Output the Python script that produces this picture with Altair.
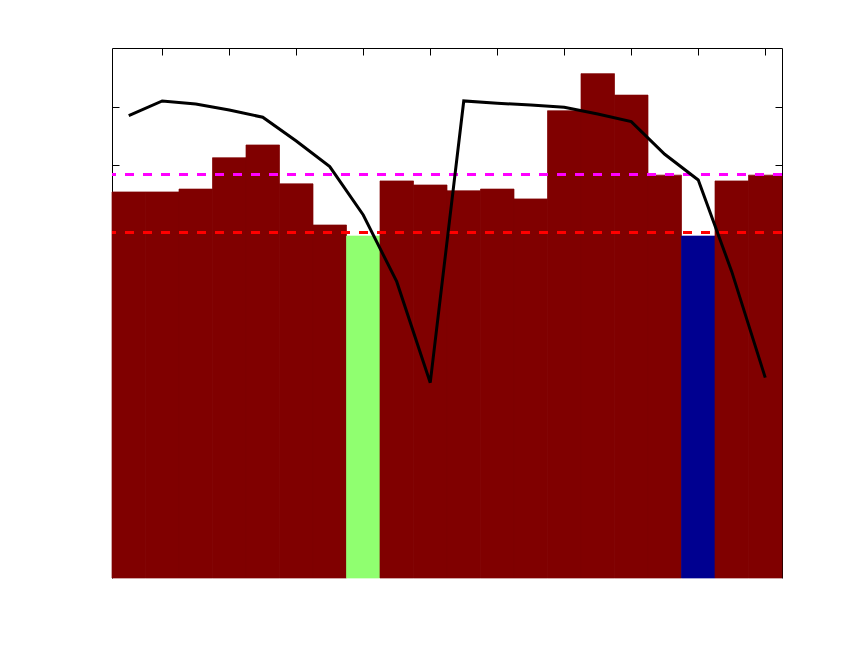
import altair as alt
import pandas as pd

# ---- data ----
positions = list(range(1, 21))
bar_values = [7.54, 7.54, 7.59, 8.13, 8.35, 7.68, 6.97, 6.78, 7.73, 7.66,
              7.56, 7.59, 7.42, 8.94, 9.58, 9.21, 7.83, 6.78, 7.73, 7.83]
bar_kinds = ["main"] * 7 + ["green"] + ["main"] * 9 + ["blue"] + ["main"] * 2
line_values = [8.855, 9.109, 9.057, 8.953, 8.828, 8.419, 7.976, 7.143, 5.993, 4.252,
               9.109, 9.069, 9.040, 9.000, 8.884, 8.752, 8.190, 7.747, 6.166, 4.338]
magenta_level = 7.845
red_level = 6.845
x_ticks = [2, 4, 6, 8, 10, 12, 14, 16, 18, 20]
y_ticks = [1, 2, 3, 4, 5, 6, 7, 8, 9]
y_domain = [0.884, 10.022]

kind_domain = ["main", "green", "blue"]
kind_colors = ["#800000", "#90ff70", "#000090"]

df = pd.DataFrame({"pos": positions, "bar": bar_values, "kind": bar_kinds, "line": line_values})

xscale = alt.Scale(paddingInner=0, paddingOuter=0)
yscale = alt.Scale(domain=y_domain, nice=False, zero=False)
kscale = alt.Scale(domain=kind_domain, range=kind_colors)


def tick_axis(orient, values):
    # inward ticks, drawn behind the marks
    return alt.Axis(orient=orient, values=values, labels=False, domain=False,
                    tickSize=7, offset=-7, tickColor="black", tickWidth=1,
                    title=None, grid=False)


def frame_axis(orient):
    # frame line only, drawn behind the marks
    return alt.Axis(orient=orient, labels=False, ticks=False, domain=True,
                    domainColor="black", domainWidth=1, title=None, grid=False)


bars = alt.Chart(df).mark_bar(strokeWidth=0.7).encode(
    x=alt.X("pos:O", scale=xscale, axis=frame_axis("top")),
    y=alt.Y("bar:Q", scale=yscale, axis=frame_axis("left")),
    y2=alt.datum(y_domain[0]),
    color=alt.Color("kind:N", scale=kscale, legend=None),
    stroke=alt.Stroke("kind:N", scale=kscale, legend=None),
)

rule_m = alt.Chart(df).mark_rule(color="#ff00ff", strokeDash=[9, 9], strokeWidth=2.5).encode(
    y=alt.YDatum(magenta_level, scale=yscale, axis=tick_axis("left", y_ticks))
)
rule_r = alt.Chart(df).mark_rule(color="#ff0000", strokeDash=[9, 9], strokeWidth=2.5).encode(
    y=alt.YDatum(red_level, scale=yscale, axis=tick_axis("right", y_ticks))
)

line = alt.Chart(df).mark_line(color="black", strokeWidth=3).encode(
    x=alt.X("pos:O", scale=xscale, axis=tick_axis("top", x_ticks)),
    y=alt.Y("line:Q", scale=yscale, axis=frame_axis("right")),
)

chart = alt.layer(bars, rule_m, rule_r, line).resolve_axis(
    x="independent", y="independent"
).properties(
    width=670, height=530,
    padding={"left": 104, "top": 40, "right": 60, "bottom": 50},
    autosize=alt.AutoSizeParams(type="none"),
    background="white",
).configure_view(stroke=None, fill="white")

chart.save("out.html", embed_options={"renderer": "svg", "actions": False})
